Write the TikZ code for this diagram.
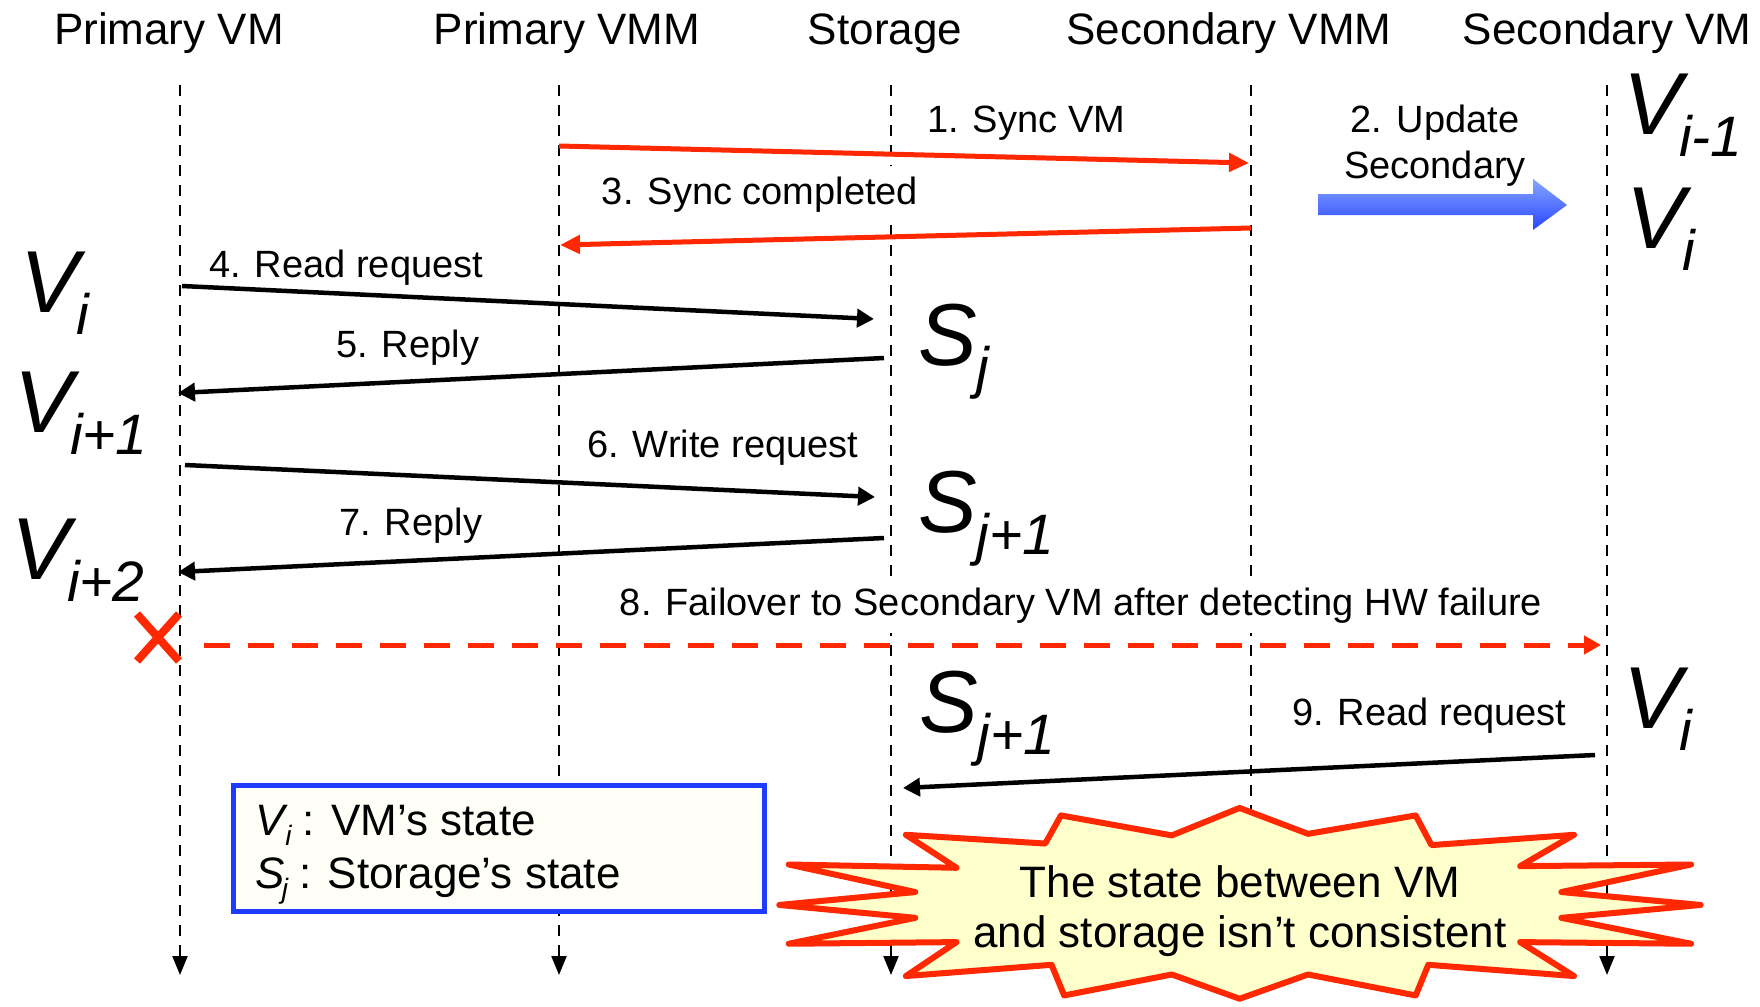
\documentclass[tikz,border=0pt]{standalone}
\usepackage{fontspec}
\setmainfont{Liberation Sans}
\usetikzlibrary{arrows.meta}

\definecolor{alarm}{RGB}{255,40,0}
\definecolor{legendblue}{RGB}{30,60,255}
\definecolor{legendfill}{RGB}{255,255,248}
\definecolor{burstfill}{RGB}{255,255,204}
\definecolor{updtop}{RGB}{134,166,255}
\definecolor{updbot}{RGB}{40,70,255}

% big state symbols with a lowered subscript tucked under the letter
\newcommand\vstate[1]{\textit{V}\kern-0.11em\raisebox{-0.25em}{\fontsize{57}{57}\selectfont\textit{#1}}}
\newcommand\sstate[1]{\textit{S}\raisebox{-0.25em}{\fontsize{57}{57}\selectfont\textit{#1}}}
% small state symbols used in the legend
\newcommand\legsym[2]{\textit{#1}\kern-0.06em\raisebox{-0.23em}{\fontsize{28}{28}\selectfont\textit{#2}}\hspace{0.24em}}

\begin{document}
\begin{tikzpicture}[x=1pt,y=-1pt,
  head/.style={anchor=base, inner sep=0pt, font=\fontsize{44}{50}\selectfont},
  msg/.style={anchor=base west, inner sep=0pt, font=\fontsize{38}{46}\selectfont},
  maskedmsg/.style={anchor=base, inner xsep=6pt, inner ysep=10pt, fill=white, font=\fontsize{38}{46}\selectfont},
  statelab/.style={anchor=base west, inner sep=0pt, font=\fontsize{88}{96}\selectfont},
  legtext/.style={anchor=base west, inner sep=0pt, font=\fontsize{44}{50}\selectfont},
  lifeline/.style={line width=2.2pt, dash pattern=on 11pt off 9pt, -{Triangle[length=19pt,width=15pt]}},
  callarrow/.style={line width=4.5pt, -{Triangle[length=17pt,width=18pt]}},
  syncarrow/.style={alarm, line width=5pt, -{Triangle[length=20pt,width=18pt]}},
]
\useasboundingbox (0,0) rectangle (1760,1006);
\fill[white] (0,0) rectangle (1760,1006);

% ---- participants ----
\node[head] (hpvm)  at (169,45)  {Primary VM};
\node[head] (hpvmm) at (567,45)  {Primary VMM};
\node[head] (hsto)  at (885,45)  {Storage};
\node[head] (hsvmm) at (1229,45) {Secondary VMM};
\node[head] (hsvm)  at (1607,45) {Secondary VM};

\coordinate (pvm-top)  at (180,85);   \coordinate (pvm-bot)  at (180,975);
\coordinate (pvmm-top) at (559,85);   \coordinate (pvmm-bot) at (559,975);
\coordinate (sto-top)  at (891,85);   \coordinate (sto-bot)  at (891,975);
\coordinate (svmm-top) at (1251,85);  \coordinate (svmm-bot) at (1251,975);
\coordinate (svm-top)  at (1607,85);  \coordinate (svm-bot)  at (1607,975);

\foreach \l in {pvm,pvmm,sto,svmm,svm}
  \draw[lifeline] (\l-top) -- (\l-bot);

% ---- message labels ----
\node[msg] (l1) at (927,132) {1. Sync VM};
\node[anchor=base, inner sep=0pt, font=\fontsize{38}{46}\selectfont] (l2a) at (1435,132) {2. Update};
\node[anchor=base, inner sep=0pt, font=\fontsize{38}{46}\selectfont] (l2b) at (1435,178) {Secondary};
\node[maskedmsg] (l3) at (760,204) {3. Sync completed};
\node[msg] (l4) at (209,277) {4. Read request};
\node[msg] (l5) at (336,357) {5. Reply};
\node[msg] (l6) at (587,457) {6. Write request};
\node[msg] (l7) at (339,535) {7. Reply};
\node[maskedmsg] (l8) at (1081,615) {8. Failover to Secondary VM after detecting HW failure};
\node[msg] (l9) at (1292,725) {9. Read request};

% ---- state labels ----
\node[statelab] (v1) at (20,312)   {\vstate{i}};
\node[statelab] (v2) at (14,432)   {\vstate{i+1}};
\node[statelab] (v3) at (11,579)   {\vstate{i+2}};
\node[statelab] (v4) at (1623,135) {\vstate{i-1}};
\node[statelab] (v5) at (1626,248) {\vstate{i}};
\node[statelab] (v6) at (1623,728) {\vstate{i}};
\node[statelab] (s1) at (918,365)  {\sstate{j}};
\node[statelab] (s2) at (918,532)  {\sstate{j+1}};
\node[statelab] (s3) at (919,732)  {\sstate{j+1}};

% ---- message end points ----
\coordinate (m1a) at (559,146);  \coordinate (m1b) at (1249,163);
\coordinate (m3a) at (1251,228); \coordinate (m3b) at (560,245);
\coordinate (m4a) at (182,286);  \coordinate (m4b) at (874,319);
\coordinate (m5a) at (884,358);  \coordinate (m5b) at (178,393);
\coordinate (m6a) at (185,465);  \coordinate (m6b) at (875,497);
\coordinate (m7a) at (884,538);  \coordinate (m7b) at (178,572);
\coordinate (m8a) at (204,645);  \coordinate (m8b) at (1601,645);
\coordinate (m9a) at (1595,755); \coordinate (m9b) at (903,788);

\draw[syncarrow] (m1a) -- (m1b);
\draw[syncarrow] (m3a) -- (m3b);
\draw[callarrow] (m4a) -- (m4b);
\draw[callarrow] (m5a) -- (m5b);
\draw[callarrow] (m6a) -- (m6b);
\draw[callarrow] (m7a) -- (m7b);
\draw[alarm, line width=5pt, dash pattern=on 26pt off 18pt,
      -{Triangle[length=17pt,width=18pt]}] (m8a) -- (m8b);
\draw[callarrow] (m9a) -- (m9b);

% ---- update arrow ----
\shade[top color=updtop, bottom color=updbot]
  (1318,194) -- (1533,194) -- (1533,179) -- (1567,205) -- (1533,230)
  -- (1533,215) -- (1318,215) -- cycle;

% ---- hardware failure mark ----
\draw[alarm, line width=8pt] (137,614) -- (179,661);
\draw[alarm, line width=8pt] (137,661) -- (179,614);

% ---- legend ----
\node[draw=legendblue, line width=5pt, fill=legendfill, anchor=north west,
      minimum width=531pt, minimum height=126pt, inner sep=0pt] (legend) at (231,782.5) {};
\node[legtext] (leg1) at (255,835) {\legsym{V}{i}: VM’s state};
\node[legtext] (leg2) at (255,888) {\legsym{S}{j}: Storage’s state};

% ---- inconsistency burst ----
\begin{scope}[shift={(1240,903)}, xscale=0.993, yscale=0.97, shift={(-1240,-903)}]
\draw[alarm, line width=6pt, line join=round, fill=burstfill]
  (1239.6,805) -- (1308.5,831.7) -- (1416.9,812.7) -- (1432.8,843.3)
  -- (1576.3,832.7) -- (1522.1,865) -- (1694.3,863.3) -- (1563.6,891.7)
  -- (1703.9,905) -- (1563.6,918.3) -- (1694.3,945) -- (1522.1,943.3)
  -- (1576.3,978.3) -- (1429.6,966.7) -- (1416.9,998.3) -- (1308.5,976.7)
  -- (1239.6,1001.7) -- (1171.3,976.7) -- (1062.9,998.3) -- (1050.2,966.7)
  -- (903.5,978.3) -- (954.5,943.3) -- (785.5,945) -- (913,918.3)
  -- (776,905) -- (913,891.7) -- (785.5,863.3) -- (954.5,866.7)
  -- (903.5,832.7) -- (1043.8,841.7) -- (1059.7,812.7) -- (1171.3,833.3)
  -- cycle;
\end{scope}
\node[anchor=base, inner sep=0pt, font=\fontsize{44}{50}\selectfont] (warn1) at (1240,897) {The state between VM};
\node[anchor=base, inner sep=0pt, font=\fontsize{44}{50}\selectfont] (warn2) at (1240,947) {and storage isn’t consistent};
\end{tikzpicture}
\end{document}
